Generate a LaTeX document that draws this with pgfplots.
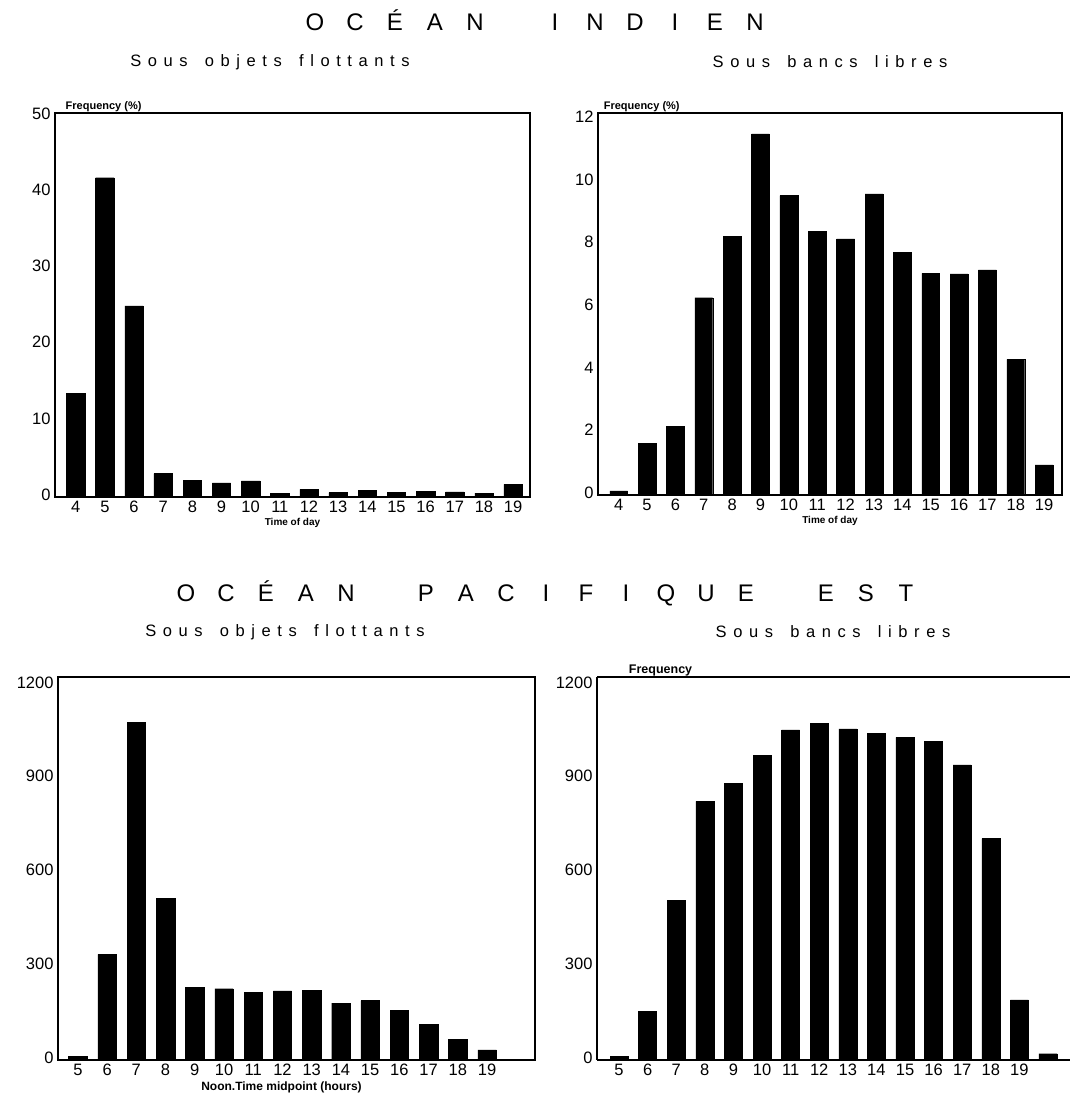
\documentclass[border=0pt]{standalone}
\usepackage{fontspec}
\setmainfont{Liberation Sans}
\usepackage{pgfplots}
\pgfplotsset{compat=1.18}
\newfontfamily\tracked{Liberation Sans}[LetterSpace=40]
\newcommand\slot[1]{\makebox[40pt]{#1}}
\pgfplotsset{
  panel/.style={
    scale only axis,
    anchor=south west,
    clip=false,
    axis line style={line width=1.1pt},
    major tick length=0pt,
    ymin=0,
    typeset ticklabels with strut,
    tick label style={font=\fontsize{16.5}{16.5}\selectfont},
    /pgf/number format/assume math mode=true,
    /pgf/number format/1000 sep={},
    xticklabel style={yshift=0pt},
    yticklabel style={xshift=-1pt},
  },
  bars/.style={ybar, fill=black, draw=black, bar width=0.63},
}
\begin{document}
\begin{tikzpicture}
\path[use as bounding box] (0pt,0pt) rectangle (1070pt,1110pt);
% titles
\node[font=\fontsize{24}{24}\selectfont] at (535pt,1090pt) {\slot{O}\slot{C}\slot{É}\slot{A}\slot{N}\slot{}\slot{I}\slot{N}\slot{D}\slot{I}\slot{E}\slot{N}};
\node[font=\fontsize{16.5}{16.5}\selectfont\tracked] at (270pt,1048pt) {Sous\hspace{6pt} objets\hspace{6pt} flottants};
\node[font=\fontsize{16.5}{16.5}\selectfont\tracked] at (830pt,1048pt) {Sous\hspace{6pt} bancs\hspace{6pt} libres};
\node[font=\fontsize{24}{24}\selectfont] at (546pt,517pt) {\slot{O}\slot{C}\slot{É}\slot{A}\slot{N}\slot{}\slot{P}\slot{A}\slot{C}\slot{I}\slot{F}\slot{I}\slot{Q}\slot{U}\slot{E}\slot{}\slot{E}\slot{S}\slot{T}};
\node[font=\fontsize{16.5}{16.5}\selectfont\tracked] at (285pt,478pt) {Sous\hspace{6pt} objets\hspace{6pt} flottants};
\node[font=\fontsize{16.5}{16.5}\selectfont\tracked] at (833pt,478pt) {Sous\hspace{6pt} bancs\hspace{6pt} libres};

% Panel 1
\begin{axis}[panel, at={(55pt,613pt)}, width=475pt, height=384pt,
  xmin=3.29, xmax=19.58, ymax=50.4,
  xtick={4,...,19}, ytick={0,10,...,50},
  xlabel={Time of day}, xlabel style={font=\bfseries\fontsize{10}{10}\selectfont, yshift=6pt}]
\addplot[bars] coordinates {(4,13.6) (5,41.9) (6,25.1) (7,3.06) (8,2.23) (9,1.84) (10,2.1) (11,0.48) (12,1.0) (13,0.57) (14,0.87) (15,0.61) (16,0.74) (17,0.66) (18,0.52) (19,1.66)};
\node[anchor=south west, inner sep=1pt, font=\bfseries\fontsize{11}{11}\selectfont] at (rel axis cs:0.02,1) {Frequency (\%)};
\end{axis}

% Panel 2
\begin{axis}[panel, at={(598pt,615pt)}, width=464pt, height=382pt,
  xmin=3.27, xmax=19.63, ymax=12.2,
  xtick={4,...,19}, ytick={0,2,...,12},
  xlabel={Time of day}, xlabel style={font=\bfseries\fontsize{10}{10}\selectfont, yshift=6pt}]
\addplot[bars] coordinates {(4,0.13) (5,1.65) (6,2.2) (7,6.3) (8,8.25) (9,11.53) (10,9.56) (11,8.41) (12,8.18) (13,9.62) (14,7.75) (15,7.08) (16,7.06) (17,7.19) (18,4.33) (19,0.96)};
\node[anchor=south west, inner sep=1pt, font=\bfseries\fontsize{11}{11}\selectfont] at (rel axis cs:0.01,1) {Frequency (\%)};
\end{axis}

% Panel 3
\begin{axis}[panel, at={(58pt,50pt)}, width=477pt, height=383pt,
  xmin=4.32, xmax=20.64, ymax=1225,
  xtick={5,...,19}, ytick={0,300,...,1200},
  xlabel={Noon.Time midpoint (hours)}, xlabel style={font=\bfseries\fontsize{12}{12}\selectfont, yshift=5pt, xshift=-15pt}]
\addplot[bars] coordinates {(5,11) (6,338) (7,1081) (8,516) (9,233) (10,228) (11,217) (12,221) (13,223) (14,182) (15,190) (16,159) (17,113) (18,67) (19,32)};
\end{axis}

% Panel 4
\begin{axis}[panel, at={(597pt,50pt)}, width=473pt, height=383pt,
  separate axis lines, axis x line*=box, axis y line*=left,
  xmin=4.23, xmax=20.77, ymax=1225,
  xtick={5,...,19}, ytick={0,300,...,1200}]
\addplot[bars] coordinates {(5,11) (6,155) (7,510) (8,827) (9,884) (10,974) (11,1056) (12,1077) (13,1059) (14,1045) (15,1032) (16,1020) (17,944) (18,708) (19,192) (20,20)};
\node[anchor=south west, inner sep=1pt, font=\bfseries\fontsize{12.5}{12.5}\selectfont] at (rel axis cs:0.065,1) {Frequency};
\end{axis}
\end{tikzpicture}
\end{document}
